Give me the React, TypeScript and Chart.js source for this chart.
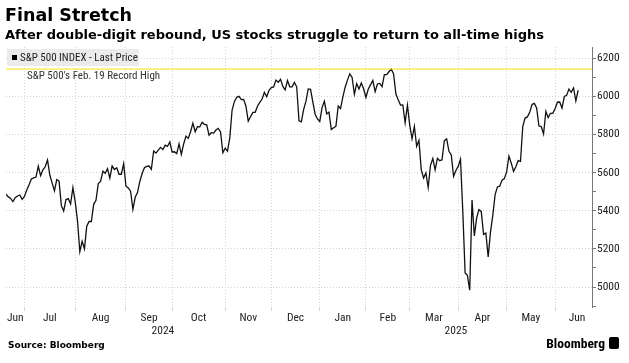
import React, { useEffect, useRef } from 'react';
import { Chart, registerables } from 'chart.js';
Chart.register(...registerables);

// Trading-day index 0 = 2024-06-18
const monthStarts = [8, 30, 52, 72, 95, 115, 136, 156, 175, 196, 217, 238];
const monthNames = ['Jun', 'Jul', 'Aug', 'Sep', 'Oct', 'Nov', 'Dec', 'Jan', 'Feb', 'Mar', 'Apr', 'May', 'Jun'];
const monthLabelPos = [4, 19, 41, 62, 83.5, 105, 125.5, 146, 165.5, 185.5, 206.5, 227.5, 247.5];
const yearLabels = ['2024', '2025'];
const yearLabelPos = [68, 195];
const yTickValues = [4900, 5000, 5100, 5200, 5300, 5400, 5500, 5600, 5700, 5800, 5900, 6000, 6100, 6200];
const recordHigh = 6144.15;

const jun24 = [5487, 5473, 5465, 5448, 5469, 5478, 5483, 5460];
const jul24 = [5475, 5509, 5537, 5567, 5573, 5577, 5634, 5585, 5615, 5631, 5667, 5588, 5545, 5505, 5564, 5556, 5427, 5399, 5459, 5464, 5436, 5522];
const aug24 = [5447, 5347, 5186, 5240, 5200, 5319, 5344, 5344, 5434, 5455, 5543, 5554, 5608, 5597, 5621, 5571, 5635, 5617, 5626, 5592, 5592, 5648];
const sep24 = [5529, 5520, 5503, 5408, 5471, 5496, 5554, 5596, 5626, 5633, 5635, 5618, 5714, 5703, 5719, 5733, 5722, 5745, 5738, 5762];
const oct24 = [5709, 5710, 5700, 5751, 5696, 5751, 5792, 5780, 5815, 5860, 5815, 5842, 5841, 5865, 5854, 5851, 5797, 5810, 5808, 5824, 5833, 5814, 5705];
const nov24 = [5729, 5713, 5783, 5929, 5973, 5996, 6001, 5984, 5985, 5949, 5871, 5894, 5917, 5917, 5949, 5969, 5987, 6022, 5999, 6032];
const dec24 = [6047, 6050, 6086, 6075, 6090, 6053, 6035, 6084, 6051, 6051, 6074, 6051, 5872, 5867, 5931, 5974, 6040, 6038, 5971, 5907, 5882];
const jan25 = [5869, 5942, 5975, 5909, 5918, 5827, 5836, 5843, 5950, 5937, 5997, 6049, 6086, 6119, 6101, 6012, 6068, 6039, 6071, 6041];
const feb25 = [5995, 6038, 6061, 6084, 6026, 6066, 6069, 6052, 6115, 6115, 6130, 6144, 6118, 6013, 5983, 5955, 5956, 5862, 5955];
const mar25 = [5850, 5778, 5843, 5739, 5770, 5615, 5572, 5599, 5522, 5639, 5675, 5615, 5675, 5663, 5668, 5768, 5777, 5712, 5693, 5581, 5612];
const apr25 = [5633, 5671, 5397, 5074, 5062, 4983, 5457, 5268, 5363, 5406, 5397, 5276, 5283, 5158, 5288, 5376, 5485, 5525, 5529, 5561, 5569];
const may25 = [5604, 5687, 5650, 5607, 5631, 5664, 5660, 5844, 5887, 5893, 5917, 5958, 5964, 5940, 5845, 5842, 5803, 5922, 5889, 5912, 5912];
const jun25 = [5936, 5970, 5971, 5939, 6000, 6006, 6039, 6022, 6045, 5977, 6033];

const spx = [...jun24, ...jul24, ...aug24, ...sep24, ...oct24, ...nov24, ...dec24, ...jan25, ...feb25, ...mar25, ...apr25, ...may25, ...jun25];

const NARROW = '"Roboto Condensed", "DejaVu Sans Condensed", "Liberation Sans", sans-serif';
const HEAD = '"DejaVu Sans", "Liberation Sans", sans-serif';

export default function App() {
  const ref = useRef<HTMLCanvasElement>(null);

  useEffect(() => {
    document.body.style.margin = '0';

    const overlay = {
      id: 'overlay',
      afterDatasetsDraw(chart: any) {
        const { ctx, chartArea, scales } = chart;
        ctx.save();
        ctx.fillStyle = '#ebebeb';
        ctx.fillRect(chartArea.left + 1, chartArea.top + 2, 132, 17);
        ctx.fillStyle = '#000';
        ctx.fillRect(chartArea.left + 6, chartArea.top + 8, 5, 5);
        ctx.font = `11px ${NARROW}`;
        ctx.fillStyle = '#222';
        ctx.textBaseline = 'middle';
        ctx.fillText('S&P 500 INDEX - Last Price', chartArea.left + 14, chartArea.top + 11);
        const yRec = scales.y.getPixelForValue(recordHigh);
        ctx.fillStyle = '#333';
        ctx.fillText("S&P 500's Feb. 19 Record High", chartArea.left + 21, yRec + 7);
        ctx.restore();
      },
    };

    const chart = new Chart(ref.current as HTMLCanvasElement, {
      type: 'line',
      data: {
        datasets: [
          {
            data: [
              { x: 0, y: recordHigh },
              { x: 254, y: recordHigh },
            ],
            borderColor: '#f2e600',
            borderWidth: 1,
            pointRadius: 0,
            xAxisID: 'x',
            yAxisID: 'y',
          },
          {
            data: spx.map((v, i) => ({ x: i, y: v })),
            borderColor: '#111',
            borderWidth: 1.3,
            pointRadius: 0,
            tension: 0,
            xAxisID: 'x',
            yAxisID: 'y',
          },
        ],
      },
      options: {
        animation: false,
        responsive: false,
        events: [],
        layout: { padding: { left: 6, right: 0, top: 47, bottom: 25 } },
        plugins: { legend: { display: false }, tooltip: { enabled: false } },
        scales: {
          x: {
            type: 'linear',
            position: 'bottom',
            weight: 0,
            min: 0,
            max: 254,
            afterBuildTicks: (sc: any) => {
              sc.ticks = monthStarts.map((v) => ({ value: v }));
            },
            afterFit: (sc: any) => {
              sc.height = 4;
            },
            ticks: { display: false },
            grid: { color: '#d4d4d4', lineWidth: 1, tickLength: 4, drawTicks: true },
            border: { display: false, dash: [1, 2] },
          },
          xm: {
            type: 'linear',
            position: 'bottom',
            weight: 1,
            min: 0,
            max: 254,
            afterBuildTicks: (sc: any) => {
              sc.ticks = monthLabelPos.map((v) => ({ value: v }));
            },
            afterFit: (sc: any) => {
              sc.height = 13;
            },
            ticks: {
              autoSkip: false,
              maxRotation: 0,
              padding: 0,
              color: '#222',
              font: { family: NARROW, size: 11.5 },
              callback: (_v: any, i: number) => monthNames[i],
            },
            grid: { display: false, drawTicks: false },
            border: { display: false },
          },
          xy: {
            type: 'linear',
            position: 'bottom',
            weight: 2,
            min: 0,
            max: 254,
            afterBuildTicks: (sc: any) => {
              sc.ticks = yearLabelPos.map((v) => ({ value: v }));
            },
            afterFit: (sc: any) => {
              sc.height = 14;
            },
            ticks: {
              autoSkip: false,
              maxRotation: 0,
              padding: 0,
              color: '#222',
              font: { family: NARROW, size: 11.5 },
              callback: (_v: any, i: number) => yearLabels[i],
            },
            grid: { display: false, drawTicks: false },
            border: { display: false },
          },
          y: {
            type: 'linear',
            position: 'right',
            min: 4895,
            max: 6260,
            afterBuildTicks: (sc: any) => {
              sc.ticks = yTickValues.map((v) => ({ value: v }));
            },
            afterFit: (sc: any) => {
              sc.width = 37;
            },
            ticks: {
              padding: 1,
              color: '#222',
              font: { family: NARROW, size: 11.5 },
              callback: (v: any) => (v % 200 === 0 ? String(v) : ''),
            },
            grid: {
              color: (ctx: any) => (ctx.tick && ctx.tick.value % 200 === 0 ? '#d4d4d4' : 'rgba(0,0,0,0)'),
              tickColor: '#777',
              tickLength: 4,
              lineWidth: 1,
            },
            border: { display: true, color: '#777', width: 1, dash: [1, 2] },
          },
        },
      },
      plugins: [overlay],
    } as any);
    return () => chart.destroy();
  }, []);

  return (
    <div style={{ position: 'relative', width: 629, height: 363, overflow: 'hidden', background: '#fff' }}>
      <canvas ref={ref} width={629} height={363} style={{ position: 'absolute', left: 0, top: 0 }} />
      <div style={{ position: 'absolute', left: 5, top: 5, font: `bold 17.5px/20px ${HEAD}`, color: '#000' }}>
        Final Stretch
      </div>
      <div style={{ position: 'absolute', left: 5, top: 27, font: `bold 13px/16px ${HEAD}`, color: '#000', whiteSpace: 'nowrap' }}>
        After double-digit rebound, US stocks struggle to return to all-time highs
      </div>
      <div style={{ position: 'absolute', left: 8, top: 339, font: `bold 9px/12px ${HEAD}`, color: '#000' }}>
        Source: Bloomberg
      </div>
      <div style={{ position: 'absolute', right: 24, top: 335, font: 'bold 13.5px/16px "Roboto Condensed", "Liberation Sans", sans-serif', color: '#000' }}>
        Bloomberg
      </div>
      <div style={{ position: 'absolute', left: 609, top: 337, width: 10, height: 12, background: '#000', borderRadius: 2 }} />
    </div>
  );
}
